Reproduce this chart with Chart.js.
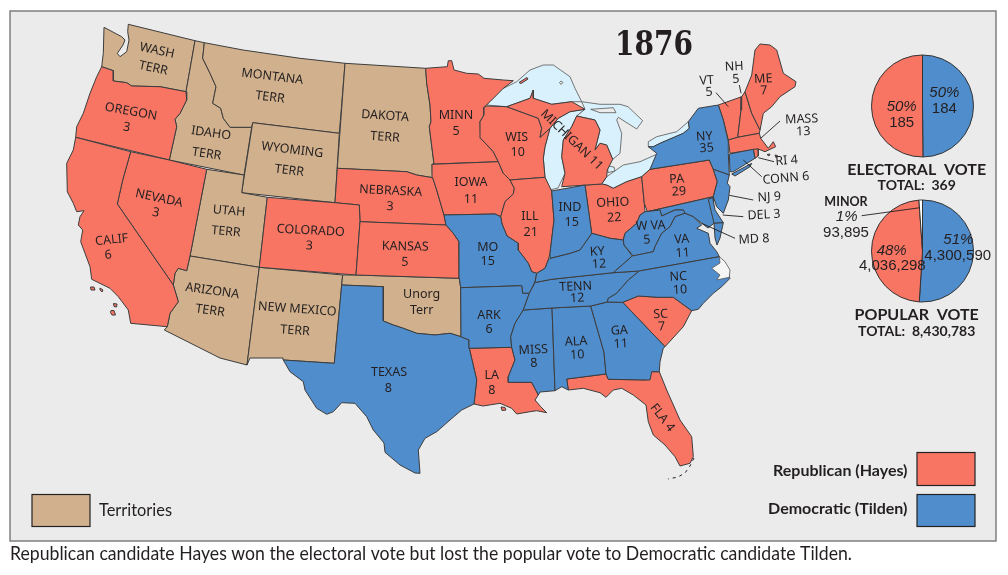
<!DOCTYPE html>
<html>
<head>
<meta charset="utf-8">
<title>1876</title>
<script src="https://cdn.jsdelivr.net/npm/chart.js@4/dist/chart.umd.min.js"></script>
<style>
    html, body { margin: 0; padding: 0; background: #fff; overflow: hidden; }
    canvas { position: absolute; display: block; }
</style>
</head>
<body>
<canvas id="mapChart" width="1008" height="575" style="left:0;top:0;width:1008px;height:575px"></canvas>
<canvas id="electoralPie" width="201" height="112" style="left:822px;top:50px;width:201px;height:112px"></canvas>
<canvas id="popularPie" width="201" height="112" style="left:822px;top:195px;width:201px;height:112px"></canvas>
<script>
// Pie values
const electoralVotes = [184, 185];
const electoralShare = [50, 50];
const popularVotes = [4300590, 4036298, 93895];
const popularShare = [51, 48, 1];
const electoralTotal = 369;
const popularTotal = 8430783;

// State labels, same order as labelSpots further down
const stateNames = ['WASH', 'OREGON', 'IDAHO', 'MONTANA', 'WYOMING', 'NEVADA', 'CALIF', 'UTAH', 'ARIZONA', 'COLORADO',
    'NEW MEXICO', 'DAKOTA', 'NEBRASKA', 'KANSAS', 'Unorg', 'TEXAS', 'MO', 'ARK', 'LA', 'MINN', 'IOWA', 'WIS', 'ILL',
    'IND', 'OHIO', 'PA', 'NY', 'VT', 'NH', 'ME', 'MASS', 'W VA', 'VA', 'KY', 'TENN', 'NC', 'SC', 'GA', 'ALA', 'MISS',
    'MICHIGAN', 'FLA', 'RI', 'CONN', 'NJ', 'DEL', 'MD'];
const stateVotes = ['TERR', 3, 'TERR', 'TERR', 'TERR', 3, 6, 'TERR', 'TERR', 3,
    'TERR', 'TERR', 3, 5, 'Terr', 8, 15, 6, 8, 5, 11, 10, 21,
    15, 22, 29, 35, 5, 5, 7, 13, 5, 11, 12, 12, 10, 7, 11, 10, 8,
    11, 4, 4, 6, 9, 3, 8];

// Outlines
const wash = [[104,27.3],[121.7,36.7],[125,40],[123,45],[117.3,53.3],[120,56.7],[126.7,51.7],[129,40],[127.7,31.7],[128.3,24.3],[195,40.7],[186,91.7],[160,86.7],[131.7,86],[126.7,82.7],[113.3,81],[113.3,70.7],[101.7,66.7],[103.3,53.3],[104,27.3]];
const oregon = [[101.7,66.7],[113.3,70.7],[113.3,81],[126.7,82.7],[131.7,86],[160,86.7],[186,91.7],[186.7,100],[180,113.3],[175,119.3],[176.7,126.7],[169.3,160],[75.7,137.3],[76.7,126.7],[83.3,113.3],[90,93.3],[96.7,76.7],[101.7,66.7]];
const idaho = [[195,40.7],[204.3,42.7],[202.7,58.3],[210,73.3],[216,86.7],[212.7,103.3],[220.7,108.3],[223.3,118.3],[230,127.3],[251.7,127.3],[244,175],[169.3,160],[176.7,126.7],[175,119.3],[180,113.3],[186.7,100],[186,91.7],[195,40.7]];
const montana = [[204.3,42.7],[243,50],[300,58.3],[345,63.3],[339.3,133.3],[252.7,122.7],[251.7,127.3],[230,127.3],[223.3,118.3],[220.7,108.3],[212.7,103.3],[216,86.7],[210,73.3],[202.7,58.3],[204.3,42.7]];
const wyoming = [[252.7,122.7],[339.3,133.3],[335,202.7],[241.7,192.7],[252.7,122.7]];
const dakota = [[345,63.3],[425.7,68.3],[426.7,83.3],[430,105],[431,121.7],[429.3,126.7],[434,164],[432,164.3],[432.7,177.7],[416.7,175],[406.7,171.7],[337.3,168.3],[345,63.3]];
const nebraska = [[337.3,168.3],[406.7,171.7],[416.7,175],[432.7,177.7],[436.7,190],[444,215],[446,225],[360,221.7],[359.3,205],[335,202.7],[337.3,168.3]];
const colorado = [[267.3,197.3],[335,202.7],[359.3,205],[360,221.7],[356,275],[259.3,267.3],[267.3,197.3]];
const utah = [[206.7,169.3],[244,175],[241.7,192.7],[267.3,197.3],[259.3,267.3],[190,256],[206.7,169.3]];
const nevada = [[130.7,151.7],[169.3,160],[206.7,169.3],[190,256],[186.7,270.7],[178.3,268.3],[175,273.3],[173.3,285],[117.3,204],[122.7,180],[130.7,151.7]];
const california = [[75.7,137.3],[130.7,151.7],[122.7,180],[117.3,204],[173.3,285],[178.3,301.7],[170,313.3],[167.3,326.7],[130.7,323.3],[128.3,310],[118.3,296.7],[110,288.3],[91.7,279.3],[90,266.7],[80.7,241.7],[82.7,230],[78.3,225],[80,216.7],[84,210.7],[76.7,211.7],[73.3,203.3],[67.3,191.7],[66.7,163.3],[73.3,150],[75.7,137.3]];
const channelIslandA = [[90.5,287],[94,287],[95,290],[91,290],[90.5,287]];
const channelIslandB = [[100,288],[103,290],[102,292],[100,290],[100,288]];
const channelIslandC = [[113.5,303.5],[117,304],[116.5,307],[114,306.5],[113.5,303.5]];
const channelIslandD = [[111,310.5],[114,310.5],[115.5,315],[112,315],[110.5,312.5],[111,310.5]];
const arizona = [[190,256],[259.3,267.3],[247,365],[220,358],[164.3,330],[167.3,326.7],[170,313.3],[178.3,301.7],[173.3,285],[175,273.3],[178.3,268.3],[186.7,270.7],[190,256]];
const newMexico = [[259.3,267.3],[270,268.3],[342.7,275],[341.7,285],[334.3,363.3],[283.3,360],[283,358],[250,358],[247,365],[259.3,267.3]];
const unorgTerr = [[342.7,275],[356,275],[459.3,278.3],[460.7,287.7],[461,336.7],[450,333.3],[435,335],[416.7,333.3],[403.3,328.3],[393.3,325],[383.3,321],[383.3,286.7],[341.7,285],[342.7,275]];
const kansas = [[360,221.7],[446,225],[453.3,233.3],[459,241.7],[459.3,278.3],[356,275],[360,221.7]];
const texas = [[341.7,285],[383.3,286.7],[383.3,321],[393.3,325],[403.3,328.3],[416.7,333.3],[435,335],[450,333.3],[461,336.7],[469,340],[469.3,348.3],[476.7,380],[474,404],[461.7,410],[450,420],[436.7,431.7],[425,438.3],[418.3,450],[420,473.3],[415,473],[400,465],[385,452.3],[384,443],[373.3,430],[366.7,416.7],[355,403.3],[341.7,402.7],[333.3,411.7],[326.7,414.3],[316.7,408.3],[305,390],[303.3,381.7],[290,371.7],[283.3,360],[334.3,363.3],[341.7,285]];
const minnesota = [[425.7,68.3],[447.3,66.7],[448.3,60.7],[451.7,60.7],[454,70],[466.7,73.3],[478.3,74],[484,78.3],[503.3,80],[513.3,80.7],[503.3,88.3],[490,101.7],[484,107.3],[484,115],[480,121.7],[480.7,138.3],[493.3,151.7],[498.3,161.7],[434,164],[429.3,126.7],[431,121.7],[430,105],[426.7,83.3],[425.7,68.3]];
const iowa = [[432,164.3],[498.3,161.7],[503.3,173.3],[510,180],[514.3,188.3],[513.3,194],[505,201.7],[500.7,216.7],[495,214],[444,215],[436.7,190],[432.7,177.7],[432,164.3]];
const wisconsin = [[484,107.3],[486.7,106],[506.7,106.7],[538.3,118.3],[541.7,128.3],[540,137.3],[550,128.3],[545,146.7],[543.3,158.3],[545,177.3],[510,180],[503.3,173.3],[498.3,161.7],[493.3,151.7],[480.7,138.3],[480,121.7],[484,115],[484,107.3]];
const illinois = [[510,180],[545,177.3],[551.7,191],[554,220],[550,253.3],[548.3,260],[545,268.3],[536.7,273.3],[531.7,271.7],[528.3,263.3],[518.3,250],[518.3,243.3],[507,236],[502,224],[500.7,216.7],[505,201.7],[513.3,194],[514.3,188.3],[510,180]];
const missouri = [[444,215],[495,214],[500.7,216.7],[502,224],[507,236],[518.3,243.3],[518.3,250],[528.3,263.3],[531.7,271.7],[536.7,273.3],[535,281.7],[529.3,293.3],[522.7,293.3],[521.7,285.7],[460.7,287.7],[459.3,278.3],[459,241.7],[453.3,233.3],[446,225],[444,215]];
const arkansas = [[460.7,287.7],[521.7,285.7],[522.7,293.3],[529.3,293.3],[523.3,310],[515,323.3],[510.7,336.7],[511.7,347.3],[469.3,348.3],[469,340],[461,336.7],[460.7,287.7]];
const louisiana = [[469.3,348.3],[511.7,347.3],[515,360],[508.3,376.7],[508.3,382.3],[531.7,382.3],[538.3,395],[535,400],[540.7,406.7],[546.7,412.7],[536.7,410.7],[530,411.7],[516.7,414],[511.7,408.3],[500,403.3],[483,406],[474,404],[476.7,380],[469.3,348.3]];
const marshIsland = [[501,407],[505,407.5],[506,410],[502,410.5],[501,407]];
const mississippi = [[523.3,310],[552,308],[555,390.7],[540,392],[538.3,395],[531.7,382.3],[508.3,382.3],[508.3,376.7],[515,360],[511.7,347.3],[510.7,336.7],[515,323.3],[523.3,310]];
const alabama = [[552,308],[590.7,306],[604,352.3],[606,374],[566.7,379],[568.3,390],[561.7,386.7],[555,390.7],[552,308]];
const georgia = [[590.7,306],[607.3,302],[622.7,302.3],[665,346.7],[663.3,348],[660,361.7],[659.3,371.7],[651.7,371.7],[650,380],[608.3,379.3],[606,374],[604,352.3],[590.7,306]];
const southCarolina = [[622.7,302.3],[638.3,296],[658.3,297.3],[673.3,297.3],[691.7,310.7],[683.3,326.7],[665,346.7],[622.7,302.3]];
const florida = [[566.7,379],[606,374],[608.3,379.3],[646.7,380],[651.7,371.7],[659.3,371.7],[666.7,390],[680,420],[691.7,436.7],[693.3,456.7],[690,463.3],[680,466],[675,456.7],[665,445],[653.3,435],[648.3,421.7],[646,405],[633.3,395],[621.7,388.3],[613.3,390],[606,397.3],[600,392.7],[583.3,388.3],[568.3,390],[566.7,379]];
const tennessee = [[535,282.5],[551.7,279.3],[613.3,272.7],[639.3,271],[628.3,280],[616.7,293.3],[608.3,298.3],[607.3,302],[590.7,306],[552,308],[523.3,310],[529.3,293.3],[535,282.5]];
const kentucky = [[550,258.3],[570,253.3],[580,250],[591.7,233.3],[610,238.3],[623.3,240],[624,245],[632.3,256],[613.3,272.7],[551.7,279.3],[535,282.5],[536.7,273.3],[545,268.3],[548.3,260],[550,258.3]];
const indiana = [[551.7,191],[585,185],[591.7,233.3],[580,250],[570,253.3],[550,258.3],[550,253.3],[554,220],[551.7,191]];
const ohio = [[585,185],[601.7,184],[606.7,185],[613.3,188.3],[626.7,181.7],[641.7,176.7],[644.3,203.3],[645,211.7],[640,215],[636.7,223.3],[625,233.3],[623.3,240],[610,238.3],[591.7,233.3],[585,185]];
const lowerMichigan = [[561.7,186.7],[601.7,184],[606.7,176.7],[607.3,170],[612.7,159.3],[606.7,145],[600,143.3],[595,150],[600,130],[595,120],[576.7,116],[571.7,126.7],[563.3,140],[561.7,156.7],[565,173.3],[561.7,186.7]];
const upperMichigan = [[506.7,106.7],[530,98.3],[533.3,90],[533.3,98.3],[551.7,104.3],[571.7,101.7],[585,109.3],[570,111.7],[558.3,118.3],[550,128.3],[540,137.3],[541.7,128.3],[538.3,118.3],[506.7,106.7]];
const isleRoyale = [[519,82.5],[527,77.5],[528,79],[521,83.5],[519,82.5]];
const newYork = [[718.3,105],[698.3,108.3],[688.3,121.7],[689.3,128.3],[683.3,133.3],[660,143.3],[653.3,146.7],[648.3,146.7],[656.7,153.3],[650,169.3],[709.3,160],[713.3,169.3],[729.3,175],[728.3,153.3],[728.3,141.7],[723.3,120],[718.3,105]];
const longIsland = [[731.7,174],[751.7,163.3],[750,166.7],[735,176],[731.7,174]];
const pennsylvania = [[641.7,176.7],[650,169.3],[709.3,160],[713.3,169.3],[717.3,181.7],[713.3,196.7],[647.3,211.7],[644.3,203.3],[641.7,176.7]];
const newJersey = [[713.3,169.3],[729.3,175],[727.3,183.3],[730,186.7],[728.3,200],[723.3,213.3],[716.7,206.7],[713.3,196.7],[717.3,181.7],[713.3,169.3]];
const delaware = [[708.3,199.3],[712.7,197.7],[715,210],[723.3,222.7],[714,223.3],[708.3,199.3]];
const maryland = [[647.3,211.7],[713.3,196.7],[714,223.3],[708,228],[693.3,216.7],[685,213.3],[683.3,210],[675,210],[661.7,216],[660,210],[647.3,211.7]];
const delmarvaTip = [[714,223.3],[723.3,222.7],[720,238],[717,245],[715,238],[714,223.3]];
const westVirginia = [[645,211.7],[660,210],[661.7,216],[675,210],[683.3,210],[685,213.3],[675,216.7],[670,226.7],[661.7,233.3],[655,246.7],[653.3,251.7],[633.3,256],[624,245],[623.3,240],[625,233.3],[636.7,223.3],[640,215],[645,211.7]];
const virginia = [[632.3,256],[653.3,251.7],[655,246.7],[661.7,233.3],[670,226.7],[675,216.7],[685,213.3],[693.3,216.7],[701.7,225],[696.7,228.3],[708.3,233.3],[710,243.3],[716.7,251.7],[719.3,256.7],[639.3,271],[613.3,272.7],[632.3,256]];
const northCarolina = [[639.3,271],[719.3,256.7],[730,278.3],[721.7,286.7],[713.3,293.3],[703.3,303.3],[698.3,309.3],[691.7,310.7],[673.3,297.3],[658.3,297.3],[638.3,296],[622.7,302.3],[607.3,302],[608.3,298.3],[616.7,293.3],[628.3,280],[639.3,271]];
const vermont = [[718.3,105],[741.7,96.7],[741,110],[737.7,137.3],[728.3,140],[723.3,120],[718.3,105]];
const newHampshire = [[741.7,96.7],[745,91.7],[751.7,113.3],[760,130],[759.3,133.3],[737.7,137.3],[741,110],[741.7,96.7]];
const maine = [[745,91.7],[751.7,75],[755,50],[760,44],[770,45],[776.7,50],[783.3,73.3],[796,81.7],[795,86.7],[780,96.7],[771.7,106.7],[763.3,113.3],[760,130],[751.7,113.3],[745,91.7]];
const massachusetts = [[728.3,140],[737.7,137.3],[759.3,133.3],[760.7,138.3],[768.3,148.3],[773.3,141.7],[775.7,146.7],[765,151.7],[758.3,149],[730,153.3],[728.3,140]];
const connecticut = [[729.3,154],[753.3,149.3],[755,158.3],[733.3,171.7],[730,171.7],[729.3,154]];
const rhodeIsland = [[753.3,149.3],[758.3,149],[758.3,156],[755,158.3],[753.3,149.3]];
const nantucket = [[767,154.5],[770,154],[769,156],[767,154.5]];
const marthasVineyard = [[775,155],[777.5,155.5],[776,157.5],[775,155]];

// Water
const lakeSuperior = [[486.7,105],[496.7,91.7],[516.7,81.7],[530,70],[543.3,65],[553.3,65],[570,76.7],[575,88.3],[581.7,101.7],[571.7,101.7],[551.7,104.3],[533.3,98.3],[533.3,90],[530,98.3],[506.7,106.7],[486.7,105]];
const lakeMichigan = [[558.3,118.3],[550,128.3],[545,146.7],[543.3,158.3],[545,177.3],[550,190],[558,188],[565,173.3],[561.7,156.7],[563.3,140],[571.7,126.7],[576.7,116],[585,109.3],[570,111.7],[558.3,118.3]];
const lakeHuron = [[581.7,101.7],[600,104.3],[620,104.3],[628,106.7],[642.7,120.7],[636.7,129],[618.3,117.3],[616.7,120],[621.7,133.3],[620,153.3],[612.7,159.3],[606.7,145],[600,143.3],[595,150],[600,130],[595,120],[576.7,116],[585,109.3],[581.7,101.7]];
const lakeErie = [[601.7,184],[606.7,176.7],[623.3,165],[640,161.7],[656.7,154.3],[657.3,158.3],[650,169.3],[641.7,176.7],[626.7,181.7],[613.3,188.3],[606.7,185],[601.7,184]];
const lakeOntario = [[648.3,146.7],[648.3,141.7],[656.7,136.7],[676.7,131.7],[688.3,121.7],[689.3,128.3],[683.3,133.3],[660,143.3],[653.3,146.7],[648.3,146.7]];
const lakeStClair = [[607.5,166],[614,167],[615,171],[608,172.5],[607.5,166]];
const manitoulin = [[590.7,109.3],[613.3,107.7],[616,112.7],[600,112.7],[590.7,109.3]];
const superiorIsle = [[559.5,82.5],[561,81],[563,82.5],[561,84.5],[559.5,82.5]];
const pamlicoSound = [[719.3,256.7],[725,261.7],[730,270],[729.3,277.3],[716.7,280],[720,275],[711.7,268.3],[720,263],[719.3,256.7]];

// Florida keys and leader lines
const floridaKeys = [[694,458],[690,466],[685,473],[678,477],[668,479]];
const vtLeader = [[716,92.7],[728.3,106.7]];
const nhLeader = [[739.3,85],[741,93.3]];
const massLeader = [[780,121],[760.7,138.3]];
const riLeader = [[758.3,157.7],[774,161.7]];
const connLeader = [[743.3,160],[761.7,176.7]];
const njLeader = [[729.3,195.3],[753.3,200]];
const delLeader = [[722.7,215],[743.3,216.7]];
const mdLeader = [[701.7,223.3],[735,238.3]];

const territoryShapes = [wash, idaho, montana, wyoming, dakota, utah, arizona, newMexico, unorgTerr];
const republicanShapes = [oregon, nevada, california, channelIslandA, channelIslandB, channelIslandC, channelIslandD,
    nebraska, colorado, kansas, minnesota, iowa, wisconsin, illinois, louisiana, marshIsland, southCarolina, florida,
    ohio, lowerMichigan, upperMichigan, isleRoyale, pennsylvania, vermont, newHampshire, maine, massachusetts,
    rhodeIsland, nantucket, marthasVineyard];
const democraticShapes = [texas, missouri, arkansas, mississippi, alabama, georgia, tennessee, kentucky, indiana,
    newYork, longIsland, newJersey, maryland, delaware, delmarvaTip, westVirginia, virginia, northCarolina, connecticut];
const lakeShapes = [lakeSuperior, lakeMichigan, lakeHuron, lakeErie, lakeOntario, lakeStClair];
const leaderLines = [vtLeader, nhLeader, massLeader, riLeader, connLeader, njLeader, delLeader, mdLeader];

const REPUBLICAN = '#f87564';
const DEMOCRATIC = '#508dcc';
const TERRITORY = '#d1b18d';
const LAKE = '#d9f1fc';
const PANEL = '#ebebeb';
const INK = '#231f20';
const EDGE = '#3d3d3d';

// x, y, angle of the name, then x, y of the second line where there is one
const labelSpots = [
    [157,50.7,12,153.3,68.3], [131,111.7,10,126.7,127.3], [211,133.3,8,206.7,154], [272.3,76.7,7,270,97.3],
    [292.3,150,7,289.3,170.7], [159,198.3,12,155.7,212.7], [111.7,240,-6,108.3,255], [229,211,5,226,231.7],
    [212.3,291,8,210,310.7], [310.7,230.7,3,309.3,246], [297.3,309.3,4,295,330.7], [385,116,4,385,137.3],
    [390.7,191,3,390,206.7], [405.3,246.7,1,405,262.3], [421.7,294,0,421.7,310.7], [389,372.7,0,388.3,388.7],
    [487.7,247.3,0,487.7,261], [489,315,0,489,329], [491.7,375.7,0,491.7,390], [456,115,0,456,131.7],
    [471,182.7,0,471,199], [516.7,137.3,0,517.7,152.7], [530,216.7,0,530.7,232.3], [570,207.3,0,571.7,222.3],
    [612.7,202.7,-3,614.3,217.7], [676.7,179.3,-4,679,191.7], [704.3,136.7,-4,706.7,148.3], [706.7,80.7,-4,709,92.3],
    [734.3,66.7,-3,736,79.3], [763.3,79,-3,764,90.7], [801.7,119.3,-2,803.3,131.7], [650.7,226,-3,647,240],
    [681.7,239.3,-4,682.7,253.3], [597.3,251.7,-3,599,264.3], [575.7,286.7,-3,577.3,298.3], [678.3,276.7,-3,680,290],
    [660.7,314.3,-3,661.7,326.7], [619.3,330.7,-3,620.7,344], [576,341.7,-3,577.3,355], [533.3,350,-3,534,363.3],
    [571.7,140,44], [662.3,417.7,52], [786.7,160.7,-5], [786,178.3,-5], [769.3,197.3,-3], [764,215,-3], [754,239.3,-3]
];

function toPoints(shape) {
    return shape.map(([x, y]) => ({ x, y }));
}

function shapeDataset(shape, color, edge = EDGE, width = 1) {
    return { data: toPoints(shape), showLine: true, fill: 'shape', backgroundColor: color, borderColor: edge,
        borderWidth: width, borderJoinStyle: 'round', pointRadius: 0, tension: 0 };
}

function lineDataset(shape, width, dash = []) {
    return { data: toPoints(shape), showLine: true, fill: false, borderColor: INK, borderWidth: width,
        borderDash: dash, pointRadius: 0, tension: 0 };
}

function text(ctx, str, x, y, font, opts = {}) {
    ctx.save();
    ctx.translate(x, y);
    ctx.rotate((opts.angle || 0) * Math.PI / 180);
    ctx.font = font;
    ctx.fillStyle = INK;
    ctx.textAlign = opts.align || 'center';
    ctx.textBaseline = 'middle';
    if (opts.width) {
        ctx.fillText(str, 0, 0, opts.width);
    } else {
        ctx.fillText(str, 0, 0);
    }
    ctx.restore();
}

// Panel and legend swatches go under the map
const panelPlugin = {
    id: 'panel',
    beforeDraw(chart) {
        const ctx = chart.ctx;
        ctx.save();
        ctx.fillStyle = '#fff';
        ctx.fillRect(0, 0, 1008, 575);
        ctx.fillStyle = PANEL;
        ctx.strokeStyle = '#777';
        ctx.lineWidth = 1.4;
        ctx.fillRect(10, 11, 986, 530);
        ctx.strokeRect(10, 11, 986, 530);
        ctx.lineWidth = 1.2;
        ctx.strokeStyle = '#222';
        [[32, 494.5, 58, 32, TERRITORY], [917, 452.5, 58, 33, REPUBLICAN], [917, 494.5, 58, 32, DEMOCRATIC]].forEach(([x, y, w, h, color]) => {
            ctx.fillStyle = color;
            ctx.fillRect(x, y, w, h);
            ctx.strokeRect(x, y, w, h);
        });
        ctx.restore();
    }
};

const STATE_FONT = '12.5px "Noto Sans"';
const mapLabelPlugin = {
    id: 'mapLabels',
    afterDraw(chart) {
        const ctx = chart.ctx;
        const sx = chart.scales.x;
        const sy = chart.scales.y;
        stateNames.forEach((name, i) => {
            const [x, y, angle, x2, y2] = labelSpots[i];
            if (x2 === undefined) {
                const str = `${name} ${stateVotes[i]}`;
                text(ctx, str, sx.getPixelForValue(x), sy.getPixelForValue(y), STATE_FONT, { angle });
                return;
            }
            text(ctx, name, sx.getPixelForValue(x), sy.getPixelForValue(y), STATE_FONT, { angle });
            text(ctx, String(stateVotes[i]), sx.getPixelForValue(x2), sy.getPixelForValue(y2), STATE_FONT, { angle });
        });

        text(ctx, '1876', 654, 46, 'bold 33px "DejaVu Serif"', { width: 78 });
        text(ctx, 'ELECTORAL  VOTE', 916.7, 169.5, 'bold 16px Lato', { width: 147 });
        text(ctx, `TOTAL:  ${electoralTotal}`, 916.7, 185.5, 'bold 14px Lato', { width: 87 });
        text(ctx, 'POPULAR  VOTE', 916.7, 315, 'bold 16px Lato', { width: 132 });
        text(ctx, `TOTAL:  ${popularTotal.toLocaleString('en-US')}`, 916.7, 331, 'bold 14px Lato', { width: 130 });
        text(ctx, 'Republican (Hayes)', 907.5, 470.5, 'bold 16px Lato', { align: 'right', width: 148 });
        text(ctx, 'Democratic (Tilden)', 907.5, 509, 'bold 16px Lato', { align: 'right', width: 154 });
        text(ctx, 'Territories', 99, 510.5, '17px Lato', { align: 'left', width: 73 });
        text(ctx, 'Republican candidate Hayes won the electoral vote but lost the popular vote to Democratic candidate Tilden.',
            10, 553.5, '19px Lato', { align: 'left', width: 842 });
    }
};

// Chart.js paints the last dataset first, so this list is flipped below
const paintOrder = [
    ...lakeShapes.map(s => shapeDataset(s, LAKE, '#555', 0.8)),
    ...territoryShapes.map(s => shapeDataset(s, TERRITORY)),
    ...republicanShapes.map(s => shapeDataset(s, REPUBLICAN)),
    ...democraticShapes.map(s => shapeDataset(s, DEMOCRATIC)),
    shapeDataset(manitoulin, PANEL, '#555', 0.8),
    shapeDataset(superiorIsle, PANEL, '#555', 0.8),
    shapeDataset(pamlicoSound, '#f6f6f6', '#555', 0.8),
    lineDataset(floridaKeys, 1, [3, 4]),
    ...leaderLines.map(s => lineDataset(s, 0.9))
];

new Chart(document.getElementById('mapChart'), {
    type: 'scatter',
    data: { datasets: paintOrder.reverse() },
    options: {
        responsive: false,
        animation: false,
        devicePixelRatio: 1,
        layout: { padding: 0 },
        scales: {
            x: { type: 'linear', min: 0, max: 1008, display: false },
            y: { type: 'linear', min: 0, max: 575, reverse: true, display: false }
        },
        plugins: { legend: { display: false }, tooltip: { enabled: false } }
    },
    plugins: [panelPlugin, mapLabelPlugin]
});

function pieChart(id, values, colors, labelPlugin) {
    return new Chart(document.getElementById(id), {
        type: 'pie',
        data: {
            datasets: [{ data: values, backgroundColor: colors, borderColor: '#333', borderWidth: 1 }]
        },
        options: {
            responsive: false,
            animation: false,
            devicePixelRatio: 1,
            radius: 51,
            plugins: { legend: { display: false }, tooltip: { enabled: false } }
        },
        plugins: [labelPlugin]
    });
}

// Pie canvases sit at a page offset, labels are given in page coordinates
const PIE_FONT = '15px "Liberation Sans"';
const PIE_ITALIC = 'italic 15px "Liberation Sans"';

pieChart('electoralPie', electoralVotes, [DEMOCRATIC, REPUBLICAN], {
    id: 'electoralLabels',
    afterDraw(chart) {
        const ctx = chart.ctx;
        ctx.save();
        ctx.translate(-822, -50);
        text(ctx, `${electoralShare[0]}%`, 944.3, 93.3, PIE_ITALIC);
        text(ctx, String(electoralVotes[0]), 944.3, 109, PIE_FONT);
        text(ctx, `${electoralShare[1]}%`, 901.7, 107.3, PIE_ITALIC);
        text(ctx, String(electoralVotes[1]), 901.7, 122.7, PIE_FONT);
        ctx.restore();
    }
});

pieChart('popularPie', popularVotes, [DEMOCRATIC, REPUBLICAN, '#fff'], {
    id: 'popularLabels',
    afterDraw(chart) {
        const ctx = chart.ctx;
        ctx.save();
        ctx.translate(-822, -195);
        ctx.strokeStyle = INK;
        ctx.lineWidth = 0.9;
        ctx.beginPath();
        ctx.moveTo(861.7, 215.7);
        ctx.lineTo(920, 207.7);
        ctx.stroke();
        text(ctx, `${popularShare[0]}%`, 958.3, 240, PIE_ITALIC);
        text(ctx, popularVotes[0].toLocaleString('en-US'), 957.7, 255.7, PIE_FONT);
        text(ctx, `${popularShare[1]}%`, 891.7, 250.7, PIE_ITALIC);
        text(ctx, popularVotes[1].toLocaleString('en-US'), 892.3, 266, PIE_FONT);
        text(ctx, 'MINOR', 846, 201.7, 'bold 12.5px Lato', { width: 44 });
        text(ctx, `${popularShare[2]}%`, 846.7, 217.3, PIE_ITALIC);
        text(ctx, popularVotes[2].toLocaleString('en-US'), 846, 232.7, PIE_FONT);
        ctx.restore();
    }
});
</script>
</body>
</html>
